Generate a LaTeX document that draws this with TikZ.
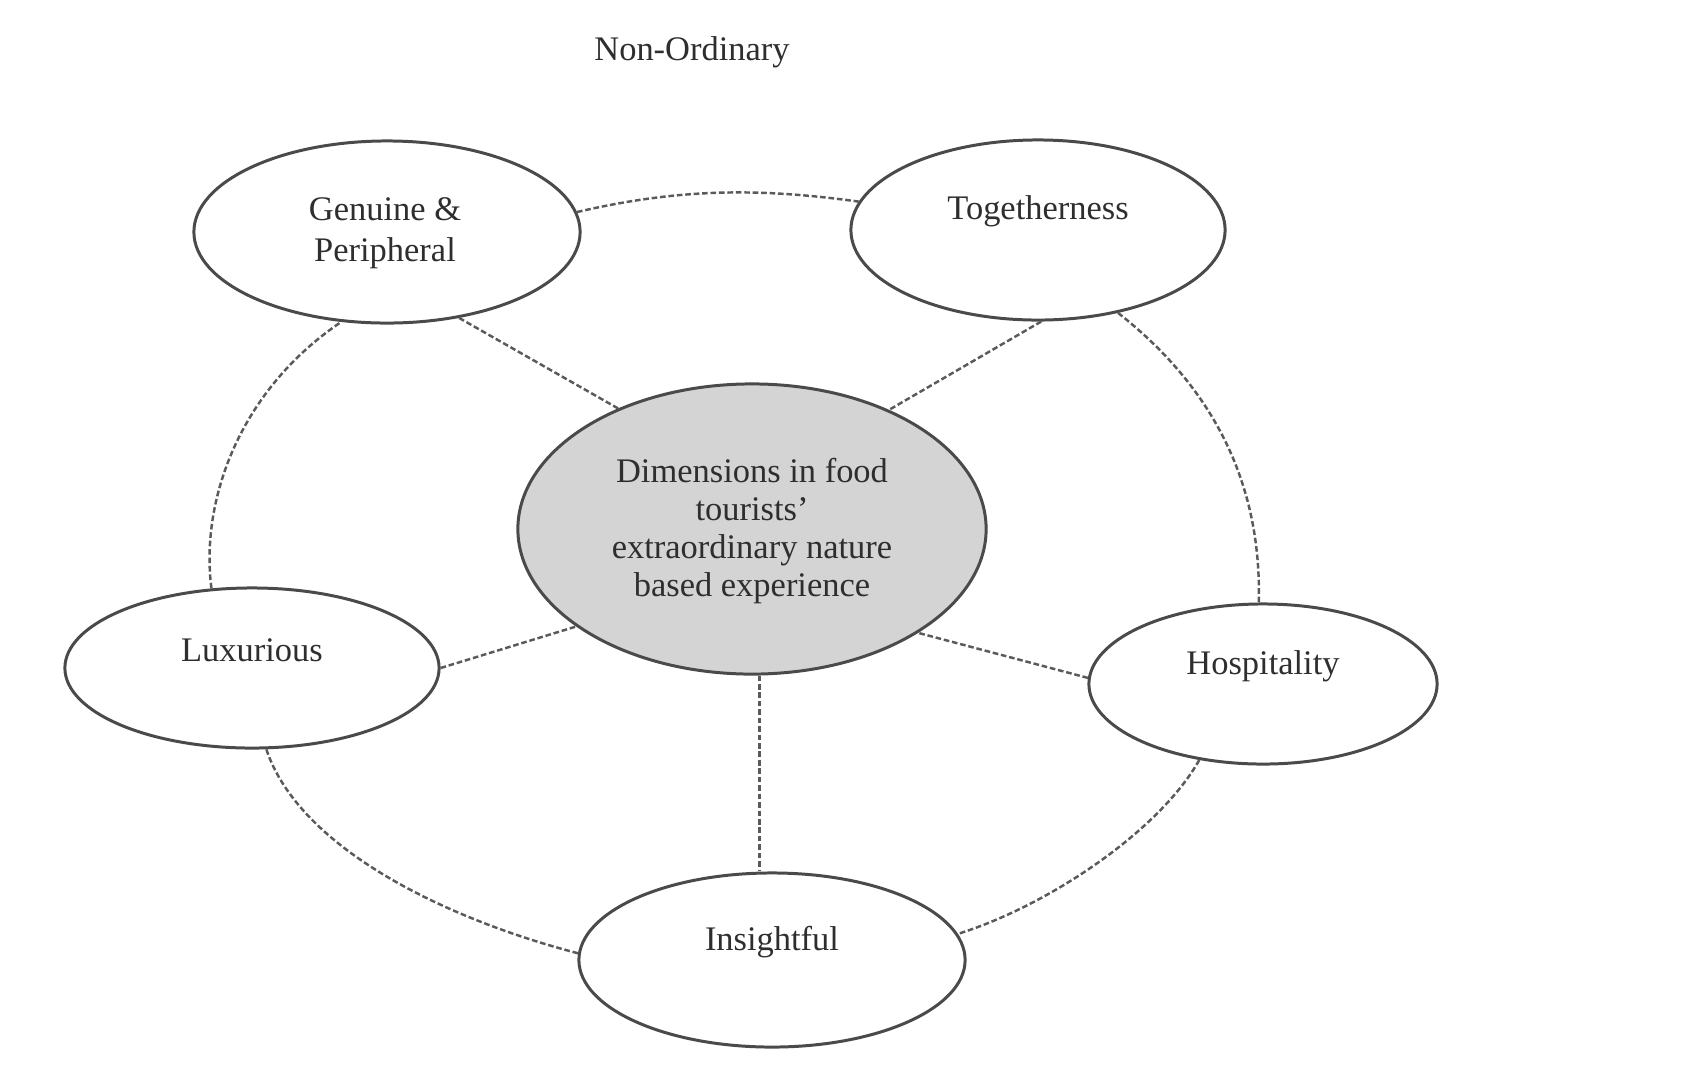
\documentclass[tikz,border=0pt]{standalone}
\usepackage{fontspec}
\setmainfont{Liberation Serif}
\usetikzlibrary{shapes.geometric}
\definecolor{inkc}{HTML}{2E2E2E}
\definecolor{linec}{HTML}{4A4A4A}
\definecolor{dashc}{HTML}{5A5A5A}
\definecolor{fillc}{HTML}{D4D4D4}
\tikzset{
  bub/.style={ellipse, draw=linec, line width=0.85pt, inner sep=0pt},
  lbl/.style={text=inkc, align=center, inner sep=0pt, font=\fontsize{9.8}{11.2}\selectfont},
  conn/.style={draw=dashc, line width=0.7pt, dash pattern=on 1.6pt off 0.8pt}
}
\begin{document}
\begin{tikzpicture}[x=0.01cm, y=-0.01cm]
\useasboundingbox (0,0) rectangle (1700,1072);
\node[lbl] (title) at (692,52) {Non-Ordinary};
% ellipses
\node[bub, minimum width=3.86cm, minimum height=1.82cm] (gen) at (387,232) {};
\node[bub, minimum width=3.74cm, minimum height=1.80cm] (tog) at (1038,230) {};
\node[bub, fill=fillc, minimum width=4.68cm, minimum height=2.90cm] (ctr) at (752,529) {};
\node[bub, minimum width=3.74cm, minimum height=1.60cm] (lux) at (252,668) {};
\node[bub, minimum width=3.48cm, minimum height=1.60cm] (hos) at (1263,684) {};
\node[bub, minimum width=3.86cm, minimum height=1.74cm] (ins) at (772,960) {};
% texts
\node[lbl, font=\fontsize{9.8}{11.8}\selectfont] (gent) at (385,233) {Genuine \&\\Peripheral};
\node[lbl] (togt) at (1038,211) {Togetherness};
\node[lbl, font=\fontsize{9.8}{10.8}\selectfont] (ctrt) at (752,531) {Dimensions in food\\tourists'\\extraordinary nature\\based experience};
\node[lbl] (luxt) at (252,650) {Luxurious};
\node[lbl] (host) at (1263,666) {Hospitality};
\node[lbl] (inst) at (772,942) {Insightful};
% spokes
\draw[conn] (gen.-50) -- (ctr.138);
\draw[conn] (tog.-88) -- (ctr.41.6);
\draw[conn] (lux.0) -- (ctr.209.5);
\draw[conn] (hos.178) -- (ctr.-32);
\draw[conn] (ctr.-87) -- (ctr.-87 |- ins.north);
% outer ring
\draw[conn] (gen.6) .. controls (680,188) and (760,188) .. (tog.171);
\draw[conn] (tog.-46.8) .. controls (1210,385) and (1262,480) .. (hos.93.6);
\draw[conn] (hos.230) .. controls (1160,830) and (1050,905) .. (ins.8.3);
\draw[conn] (ins.178) .. controls (450,920) and (300,850) .. (lux.-80);
\draw[conn] (lux.117.4) .. controls (200,500) and (240,390) .. (gen.243.7);
\end{tikzpicture}
\end{document}
